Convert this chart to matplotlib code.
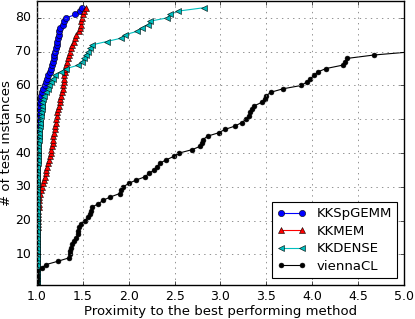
import numpy as np
import matplotlib
matplotlib.use("Agg")
import matplotlib.pyplot as plt

plt.style.use("classic")
plt.rcParams["font.family"] = ["DejaVu Sans"]

# Performance-profile ratios (sorted), one per test instance
kkspgemm = [1.00] * 45 + [
    1.00, 1.005, 1.005, 1.01, 1.01, 1.015, 1.02, 1.02, 1.025, 1.03,
    1.04, 1.045, 1.055, 1.07, 1.085, 1.10, 1.11, 1.125, 1.14, 1.15,
    1.16, 1.17, 1.185, 1.19, 1.20, 1.21, 1.215, 1.22, 1.23, 1.235,
    1.245, 1.255, 1.28, 1.30, 1.32, 1.42, 1.47, 1.49]

kkmem = [1.00] * 15 + [
    1.003, 1.005, 1.007, 1.01, 1.012, 1.014, 1.015, 1.017, 1.019, 1.02,
    1.022, 1.025, 1.03, 1.04, 1.05, 1.065, 1.075, 1.09, 1.095, 1.10,
    1.11, 1.12, 1.13, 1.14, 1.15, 1.155, 1.16, 1.17, 1.175, 1.18,
    1.19, 1.195, 1.20, 1.205, 1.21, 1.215, 1.22, 1.23, 1.24, 1.25,
    1.255, 1.26, 1.275, 1.28, 1.285, 1.29, 1.295, 1.30, 1.305, 1.31,
    1.32, 1.33, 1.34, 1.35, 1.36, 1.37, 1.385, 1.40, 1.415, 1.43,
    1.46, 1.47, 1.48, 1.485, 1.49, 1.50, 1.51, 1.54]

kkdense = [1.00] * 33 + [
    1.005, 1.005, 1.005, 1.01, 1.01, 1.01, 1.01, 1.01, 1.015, 1.015,
    1.02, 1.02, 1.02, 1.025, 1.03, 1.03, 1.035, 1.04, 1.045, 1.05,
    1.055, 1.06, 1.07, 1.08, 1.10, 1.12, 1.13, 1.15, 1.17, 1.20,
    1.26, 1.32, 1.45, 1.49, 1.51, 1.53, 1.56, 1.58, 1.60, 1.76,
    1.92, 1.96, 2.09, 2.14, 2.21, 2.23, 2.42, 2.45, 2.54, 2.82]

viennacl = [1.00] * 5 + [
    1.05, 1.10, 1.23, 1.35, 1.355, 1.365, 1.375, 1.38, 1.40, 1.43,
    1.445, 1.45, 1.46, 1.48, 1.52, 1.56, 1.575, 1.59, 1.60, 1.67,
    1.72, 1.80, 1.90, 1.92, 1.94, 2.00, 2.08, 2.18, 2.22, 2.28,
    2.31, 2.34, 2.41, 2.49, 2.55, 2.69, 2.78, 2.80, 2.81, 2.86,
    2.98, 3.05, 3.16, 3.23, 3.28, 3.31, 3.32, 3.34, 3.37, 3.45,
    3.48, 3.50, 3.55, 3.68, 3.88, 3.94, 3.98, 4.02, 4.06, 4.15,
    4.33, 4.36, 4.38, 4.67, 5.10]

series_names = ["KKSpGEMM", "KKMEM", "KKDENSE", "viennaCL"]
xticks = [1.0, 1.5, 2.0, 2.5, 3.0, 3.5, 4.0, 4.5, 5.0]
yticks = [10, 20, 30, 40, 50, 60, 70, 80]

fig = plt.figure(figsize=(4.15, 3.19), dpi=100, facecolor="white")
ax = fig.add_axes([0.089, 0.107, 0.8845, 0.890])

styles = [
    dict(color="b", marker="o", ms=4.5),
    dict(color="r", marker="^", ms=5),
    dict(color="c", marker="<", ms=5),
    dict(color="k", marker="o", ms=3.5),
]
for vals, name, st in zip([kkspgemm, kkmem, kkdense, viennacl], series_names, styles):
    xs = np.asarray(vals)
    ys = np.arange(1, len(xs) + 1)
    ax.plot(xs, ys, linestyle="-", lw=0.8, mec="k", mew=0.4, label=name, **st)

ax.set_xlim(1.0, 5.0)
ax.set_ylim(1, 85)
ax.set_xticks(xticks)
ax.set_yticks(yticks)
ax.tick_params(labelsize=9, direction="in", length=3)
ax.grid(True, color="0.5", linestyle=":", linewidth=0.6)
ax.set_xlabel("Proximity to the best performing method", fontsize=9.5, labelpad=1)
ax.set_ylabel("# of test instances", fontsize=9.5, labelpad=2)

leg = ax.legend(loc="lower right", numpoints=2, fontsize=9.5, fancybox=False,
                framealpha=1, borderaxespad=0.5, handlelength=2.2, labelspacing=0.35)
leg.get_frame().set_linewidth(0.8)

fig.savefig("out.png", dpi=100, facecolor="white")
